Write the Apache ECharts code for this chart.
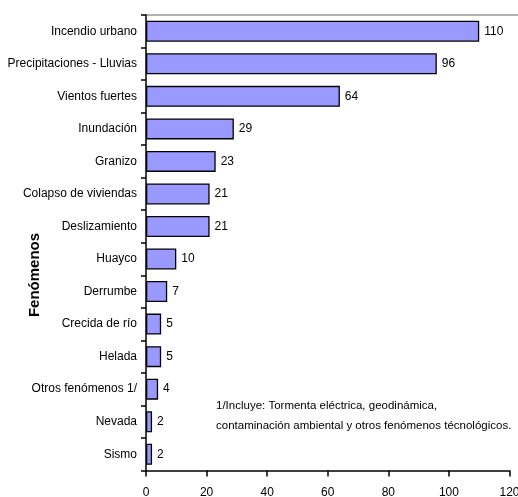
<!DOCTYPE html>
<html><head><meta charset="utf-8">
<script src="https://cdn.jsdelivr.net/npm/echarts@6/dist/echarts.min.js"></script>
<style>html,body{margin:0;padding:0;background:#fff}#c{width:518px;height:497px}</style>
</head><body><div id="c"></div>
<script>
const categories = ["Incendio urbano","Precipitaciones - Lluvias","Vientos fuertes","Inundación","Granizo","Colapso de viviendas","Deslizamiento","Huayco","Derrumbe","Crecida de río","Helada","Otros fenómenos 1/","Nevada","Sismo"];
const values = [110,96,64,29,23,21,21,10,7,5,5,4,2,2];
const xTicks = [0,20,40,60,80,100,120];
const axisTitle = "Fenómenos";
const noteLines = ["1/Incluye: Tormenta eléctrica, geodinámica,","contaminación ambiental y otros fenómenos técnológicos."];
const FONT = "'Liberation Sans Narrow','Arial Narrow','Liberation Sans',Arial,sans-serif";
const chart = echarts.init(document.getElementById('c'));
chart.setOption({
  animation:false,
  textStyle:{fontFamily:FONT},
  grid:{left:146,top:15,right:8.5,bottom:26.5,containLabel:false,outerBoundsMode:'none'},
  xAxis:{type:'value',min:xTicks[0],max:xTicks[xTicks.length-1],interval:20,
    axisLine:{show:true,lineStyle:{color:'#000',width:1.5}},
    axisTick:{show:true,length:6,lineStyle:{color:'#000',width:1.5}},
    axisLabel:{color:'#000',fontSize:12,fontFamily:FONT,margin:16},
    splitLine:{show:false}},
  yAxis:{type:'category',data:categories,inverse:true,
    axisLine:{show:true,lineStyle:{color:'#000',width:1.5}},
    axisTick:{show:true,length:5,lineStyle:{color:'#000',width:1.5}},
    axisLabel:{color:'#000',fontSize:12,fontFamily:FONT,margin:9}},
  series:[{type:'bar',data:values,barWidth:21,
    itemStyle:{color:'#9999FF',borderColor:'#000',borderWidth:1.3},
    label:{show:true,position:'right',distance:5,color:'#000',fontSize:12,fontFamily:FONT}}],
  graphic:[
    {type:'line',shape:{x1:146,y1:15,x2:518,y2:15},style:{stroke:'#999',lineWidth:1.5},silent:true},
    {type:'text',x:35,y:275,rotation:Math.PI/2,style:{text:axisTitle,font:'bold 15px '+FONT,fill:'#000',textAlign:'center',textVerticalAlign:'middle'}},
    {type:'text',left:216,top:396,style:{text:noteLines.join('\n'),font:'11.5px '+FONT,fill:'#000',lineHeight:20}}
  ]
});
</script></body></html>
